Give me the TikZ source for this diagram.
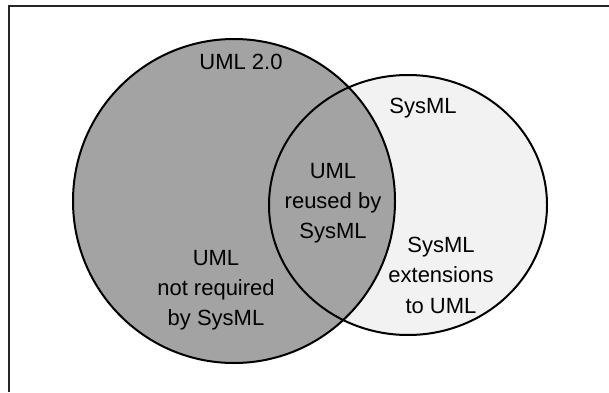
\documentclass[tikz,border=0pt]{standalone}
\usepackage{fontspec}
\setmainfont{Liberation Sans}
\begin{document}
\begin{tikzpicture}[x=1bp,y=1bp,
  setline/.style={line width=2bp,draw=black},
  label/.style={anchor=base,inner sep=0pt,font=\fontsize{22bp}{30bp}\selectfont}]
  \useasboundingbox (0,0) rectangle (609,392);
  % page frame (top and left edges)
  \coordinate (ftl) at (9,386);
  \coordinate (ftr) at (609,386);
  \coordinate (fbl) at (9,0);
  \draw[line width=1.4bp,draw=black!85] (ftr) -- (ftl) -- (fbl);
  % the two sets
  \coordinate (cuml) at (234,191);
  \coordinate (csys) at (408,187);
  \fill[black!5] (csys) ellipse [x radius=139, y radius=130];
  \fill[black!36] (cuml) ellipse [x radius=161, y radius=162];
  \draw[setline] (csys) ellipse [x radius=139, y radius=130];
  \draw[setline] (cuml) ellipse [x radius=161, y radius=162];
  % set names
  \node[label] (umltitle) at (241,323) {UML 2.0};
  \node[label] (systitle) at (423,279) {SysML};
  % shared part
  \node[label] (mid1) at (333,214) {UML};
  \node[label] (mid2) at (333,184) {reused by};
  \node[label] (mid3) at (333,154) {SysML};
  % UML only
  \node[label] (left1) at (216,127) {UML};
  \node[label] (left2) at (216,97) {not required};
  \node[label] (left3) at (216,67) {by SysML};
  % SysML only
  \node[label] (right1) at (441,140) {SysML};
  \node[label] (right2) at (441,109.5) {extensions};
  \node[label] (right3) at (441,79) {to UML};
\end{tikzpicture}
\end{document}
